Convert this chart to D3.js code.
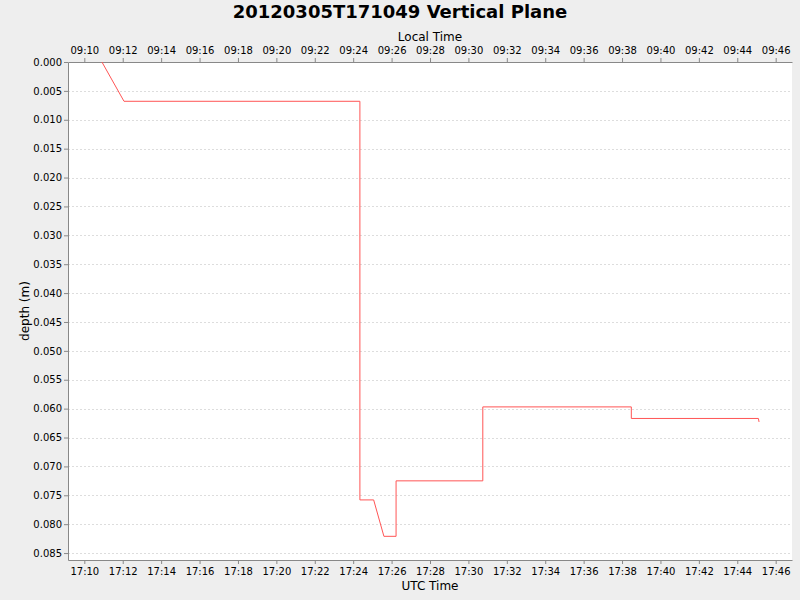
<!DOCTYPE html>
<html>
<head>
<meta charset="utf-8">
<script src="https://cdn.jsdelivr.net/npm/d3@7"></script>
<style>
  body { margin: 0; background: #eeeeee; }
  text { font-family: "DejaVu Sans", sans-serif; }
</style>
</head>
<body>
<div id="chart"></div>
<script>
// data (UTC time, depth in metres)
var day = '2012-03-05'
var utcTimes = ['17:10:55', '17:12:04', '17:24:21', '17:24:21', '17:25:04', '17:25:36', '17:26:14',
  '17:26:14', '17:30:45', '17:30:45', '17:38:29', '17:38:29', '17:45:06', '17:45:08']
var depths = [0.0000, 0.0068, 0.0068, 0.0758, 0.0758, 0.0821, 0.0821,
  0.0725, 0.0725, 0.0597, 0.0597, 0.0617, 0.0617, 0.0623]
var timeRange = ['17:09:09', '17:46:51']
var depthRange = [0, 0.0862]
var localOffsetHours = -8

var margin = {top: 62, right: 8, bottom: 40, left: 68},
    width = 800 - margin.left - margin.right,
    height = 600 - margin.top - margin.bottom

var parse = d3.utcParse('%Y-%m-%d %H:%M:%S')
var data = utcTimes.map(function (t, i) { return { date: parse(day + ' ' + t), depth: depths[i] } })

var svg = d3.select('#chart')
  .append('svg')
  .attr('width', 800)
  .attr('height', 600)

svg.append('text')
  .attr('x', 400)
  .attr('y', 18)
  .attr('text-anchor', 'middle')
  .style('font-size', '18px')
  .style('font-weight', 'bold')
  .text('20120305T171049 Vertical Plane')

var g = svg.append('g')
  .attr('transform', 'translate(' + margin.left + ',' + margin.top + ')')

g.append('rect')
  .attr('width', width)
  .attr('height', height)
  .attr('fill', '#ffffff')

var x = d3.scaleUtc()
  .domain(timeRange.map(function (t) { return parse(day + ' ' + t) }))
  .range([0, width])

var xLocal = d3.scaleUtc()
  .domain(x.domain().map(function (d) { return d3.utcHour.offset(d, localOffsetHours) }))
  .range([0, width])

var y = d3.scaleLinear()
  .domain(depthRange)
  .range([0, height])

var yTicks = d3.range(0, 0.0851, 0.005)

// horizontal grid lines
g.append('g')
  .selectAll('line')
  .data(yTicks)
  .enter()
  .append('line')
  .attr('x1', 0)
  .attr('x2', width)
  .attr('y1', function (d) { return Math.round(y(d)) + 0.5 })
  .attr('y2', function (d) { return Math.round(y(d)) + 0.5 })
  .attr('stroke', '#dddddd')
  .attr('stroke-dasharray', '2,2')

// axes
function styleAxis (sel) {
  sel.select('.domain').attr('stroke', '#888888')
  sel.selectAll('.tick line').attr('stroke', '#888888')
  sel.selectAll('.tick text').style('font-size', '10px').attr('fill', '#000')
}

g.append('g')
  .attr('transform', 'translate(0,' + height + ')')
  .call(d3.axisBottom(x).ticks(d3.utcMinute.every(2)).tickFormat(d3.utcFormat('%H:%M'))
    .tickSizeInner(4).tickSizeOuter(0).tickPadding(4))
  .call(styleAxis)

g.append('g')
  .call(d3.axisTop(xLocal).ticks(d3.utcMinute.every(2)).tickFormat(d3.utcFormat('%H:%M'))
    .tickSizeInner(4).tickSizeOuter(0).tickPadding(4))
  .call(styleAxis)

g.append('g')
  .call(d3.axisLeft(y).tickValues(yTicks).tickFormat(d3.format('.3f'))
    .tickSizeInner(4).tickSizeOuter(0).tickPadding(2))
  .call(styleAxis)

svg.append('text')
  .attr('x', margin.left + width / 2)
  .attr('y', 590)
  .attr('text-anchor', 'middle')
  .style('font-size', '12px')
  .text('UTC Time')

svg.append('text')
  .attr('x', margin.left + width / 2)
  .attr('y', 41)
  .attr('text-anchor', 'middle')
  .style('font-size', '12px')
  .text('Local Time')

svg.append('text')
  .attr('transform', 'translate(29,' + (margin.top + height / 2) + ') rotate(-90)')
  .attr('text-anchor', 'middle')
  .style('font-size', '12px')
  .text('depth (m)')

// depth line
g.append('path')
  .datum(data)
  .attr('fill', 'none')
  .attr('stroke', '#ff5555')
  .attr('stroke-width', 1)
  .attr('d', d3.line()
    .x(function (d) { return x(d.date) })
    .y(function (d) { return y(d.depth) })
  )
</script>
</body>
</html>
